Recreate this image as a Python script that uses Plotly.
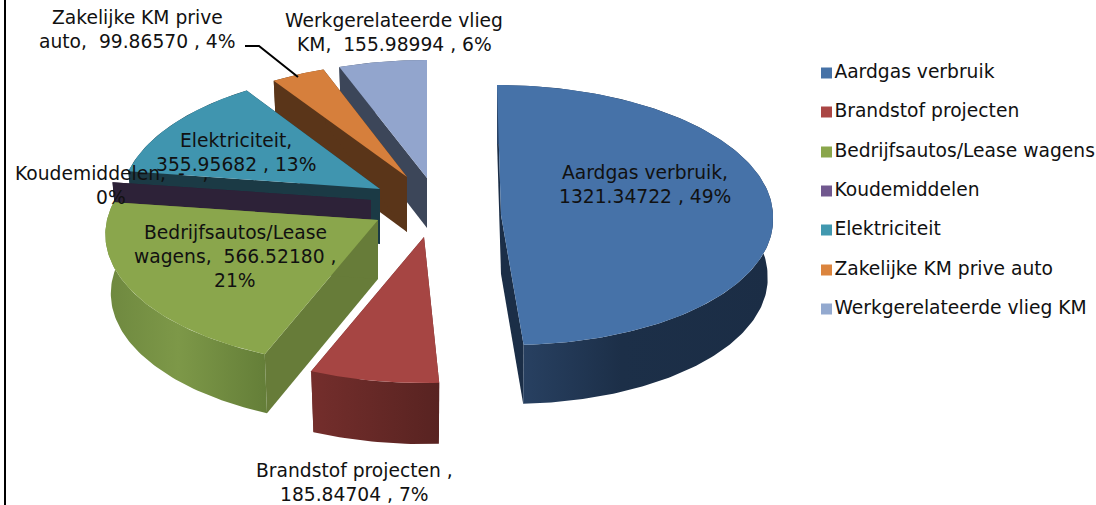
import numpy as np
import plotly.graph_objects as go

categories = ["Aardgas verbruik", "Brandstof projecten", "Bedrijfsautos/Lease wagens", "Koudemiddelen",
              "Elektriciteit", "Zakelijke KM prive auto", "Werkgerelateerde vlieg KM"]
values = [1321.34722, 185.84704, 566.52180, 0.0, 355.95682, 99.86570, 155.98994]
labels = [
    "Aardgas verbruik,\n1321.34722 , 49%",
    "Brandstof projecten ,\n185.84704 , 7%",
    "Bedrijfsautos/Lease\nwagens,  566.52180 ,\n21%",
    "Koudemiddelen,  -   ,\n0%",
    "Elektriciteit,\n355.95682 , 13%",
    "Zakelijke KM prive\nauto,  99.86570 , 4%",
    "Werkgerelateerde vlieg\nKM,  155.98994 , 6%",
]

# styling and layout (pixel space of the 1096x505 page)
top_colors = ["#4672a8", "#a64543", "#8aa64c", "#2d2238", "#4095af", "#d67f3c", "#92a5cd"]
legend_colors = ["#4672a7", "#aa4644", "#8aa64b", "#71588f", "#4198af", "#db843d", "#93a9cf"]
wall_scales = [
    [[0, "#2b4568"], [0.45, "#1c2f48"], [1, "#1b2d45"]],
    [[0, "#742e2c"], [1, "#582321"]],
    [[0, "#6e883f"], [0.45, "#7d9848"], [1, "#647e38"]],
    [[0, "#2d2238"], [1, "#2d2238"]],
    [[0, "#1b3a45"], [1, "#1b3a45"]],
    [[0, "#5a3519"], [1, "#5a3519"]],
    [[0, "#3c4659"], [1, "#3c4659"]],
]
radial_colors = ["#1b2e47", "#6a2a28", "#677c39", "#2d2238", "#1b3a45", "#5a3519", "#3c4659"]
tips = [(501, 215), (424, 237), (378, 220), (371, 200), (380, 189), (407, 177), (427, 178)]
rx = [272, 270, 271, 265, 258, 258, 271]
ry = [130, 130, 130, 130, 130, 127, 131]
persp = [0.0, 0.11, 0.11, 0.11, 0.11, 0.11, 0.11]
depth = [59, 61, 59, 58, 55, 55, 50]
skew_up = [4, 0, 0, 0, 0, 0, 0]
skew_down = [9, 0, 0, 0, 0, 0, 0]
base_shrink = 0.98
draw_order = [6, 5, 4, 3, 2, 1, 0]
label_x = [645, 354, 235, 111, 236, 137, 394]
label_y = [172, 470, 232, 173, 140, 17, 20]
line_step = 24
legend_x = 826.5
legend_y = [73, 112, 152, 191, 230, 270, 309]
FONT = "DejaVu Sans"
FS = 18.7

total = sum(values)
fractions = np.array(values) / total
edges = np.concatenate([[0], np.cumsum(fractions)]) * 2 * np.pi


def project(i, theta):
    c, s = np.cos(theta), np.sin(theta)
    d = 1 + persp[i] * c
    sk = np.where(c > 0, skew_up[i], skew_down[i])
    return tips[i][0] + rx[i] * s / d - sk * c, tips[i][1] - ry[i] * c / d


fig = go.Figure()


def poly(x, y, color=None, scale=None):
    kw = dict(x=list(x), y=list(y), mode="lines", fill="toself", line=dict(width=0),
              showlegend=False, hoverinfo="skip")
    if scale is not None:
        kw["fillgradient"] = dict(type="horizontal", colorscale=scale)
    else:
        kw["fillcolor"] = color
    fig.add_trace(go.Scatter(**kw))


for i in draw_order:
    a0, a1 = edges[i], edges[i + 1]
    th = np.linspace(a0, a1, max(int(np.degrees(a1 - a0)), 2))
    ax, ay = project(i, th)
    tx, ty = tips[i]
    dp = depth[i]
    bx = tx + (ax - tx) * base_shrink
    # radial walls
    for k in (0, -1):
        poly([tx, ax[k], bx[k], tx], [ty, ay[k], ay[k] + dp, ty + dp], color=radial_colors[i])
    # outer wall
    if a1 > a0:
        poly(np.r_[ax, bx[::-1]], np.r_[ay, (ay + dp)[::-1]], scale=wall_scales[i])
        # top face
        poly(np.r_[tx, ax], np.r_[ty, ay], color=top_colors[i])

# leader line for the orange slice
fig.add_trace(go.Scatter(x=[245, 259, 298], y=[46, 46, 77], mode="lines",
                         line=dict(color="black", width=2), showlegend=False, hoverinfo="skip"))

# legend
for name, col, ly in zip(categories, legend_colors, legend_y):
    fig.add_trace(go.Scatter(x=[legend_x], y=[ly], mode="markers+text", name=name, text=[name],
                             textposition="middle right",
                             textfont=dict(family=FONT, size=FS, color="#111111"),
                             marker=dict(symbol="square", size=11, color=col),
                             showlegend=False, hoverinfo="skip", cliponaxis=False))

# data labels
for lab, lx, ly in zip(labels, label_x, label_y):
    for n, part in enumerate(lab.split("\n")):
        fig.add_annotation(x=lx, y=ly + n * line_step, text=part.replace("  ", "\u00a0 "),
                           showarrow=False, xanchor="center", yanchor="middle",
                           font=dict(family=FONT, size=FS, color="#111111"))

fig.add_shape(type="line", x0=5, x1=5, y0=0, y1=505, line=dict(color="black", width=2))
fig.update_layout(
    width=1096, height=505, margin=dict(l=0, r=0, t=0, b=0),
    paper_bgcolor="white", plot_bgcolor="white", showlegend=False,
    xaxis=dict(range=[0, 1096], visible=False, fixedrange=True),
    yaxis=dict(range=[505, 0], visible=False, fixedrange=True),
)
fig.write_html("out.html", config={"displayModeBar": False},
               post_script="document.body.style.margin='0';document.documentElement.style.overflow='hidden';")
